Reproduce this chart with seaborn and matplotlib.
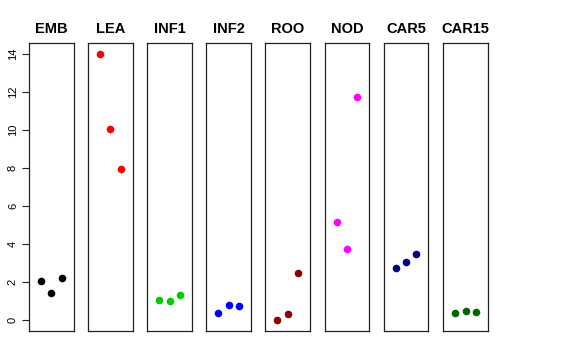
import matplotlib
matplotlib.use("Agg")
import matplotlib.pyplot as plt
import seaborn as sns
import pandas as pd

sns.set_style("white")
plt.rcParams['font.family'] = ['Liberation Sans', 'DejaVu Sans']
plt.rcParams['text.color'] = 'black'
plt.rcParams['ytick.color'] = 'black'
plt.rcParams['xtick.color'] = 'black'
plt.rcParams['axes.labelcolor'] = 'black'

tissues = ["EMB", "LEA", "INF1", "INF2", "ROO", "NOD", "CAR5", "CAR15"]
colors = ["black", "red", "#00CD00", "blue", "#8B0000", "magenta", "#00008B", "#006400"]
rep = [1, 2, 3]
emb = [2.06, 1.43, 2.20]
lea = [14.0, 10.06, 7.95]
inf1 = [1.07, 1.00, 1.31]
inf2 = [0.37, 0.82, 0.77]
roo = [0.00, 0.35, 2.47]
nod = [5.18, 3.74, 11.71]
car5 = [2.76, 3.06, 3.47]
car15 = [0.38, 0.50, 0.44]
values = [emb, lea, inf1, inf2, roo, nod, car5, car15]
yticks = [0, 2, 4, 6, 8, 10, 12, 14]

rows = []
for t, vals in zip(tissues, values):
    for r, v in zip(rep, vals):
        rows.append({"tissue": t, "rep": r, "expr": v})
df = pd.DataFrame(rows)

W, H = 576, 360
fig = plt.figure(figsize=(W / 100, H / 100), dpi=100)
lefts = [29, 88, 147.3, 206.3, 265.3, 324.7, 383.7, 443.3]
pw = 44.6
top, bot = 43, 331
for i, (t, c) in enumerate(zip(tissues, colors)):
    ax = fig.add_axes([lefts[i] / W, 1 - bot / H, pw / W, (bot - top) / H])
    sub = df[df.tissue == t]
    sns.scatterplot(data=sub, x="rep", y="expr", color=c, s=30, edgecolor=c,
                    linewidth=0, ax=ax, legend=False)
    ax.set_xlim(-0.16, 4.16)
    ax.set_ylim(-0.56, 14.56)
    ax.set_xticks([])
    ax.set_xlabel("")
    ax.set_ylabel("")
    for sp in ax.spines.values():
        sp.set_visible(True)
        sp.set_color("#222222")
        sp.set_linewidth(0.9)
    ax.set_title(t, fontsize=10.5, fontweight="bold", pad=7, color="black")
    if i == 0:
        ax.set_yticks(yticks)
        ax.set_yticklabels([str(v) for v in yticks], rotation=90, va="center", fontsize=8)
        ax.tick_params(axis="y", left=True, length=5, width=0.8, color="#222222",
                       labelcolor="black", pad=3)
    else:
        ax.set_yticks([])

fig.savefig("out.png", dpi=100)
